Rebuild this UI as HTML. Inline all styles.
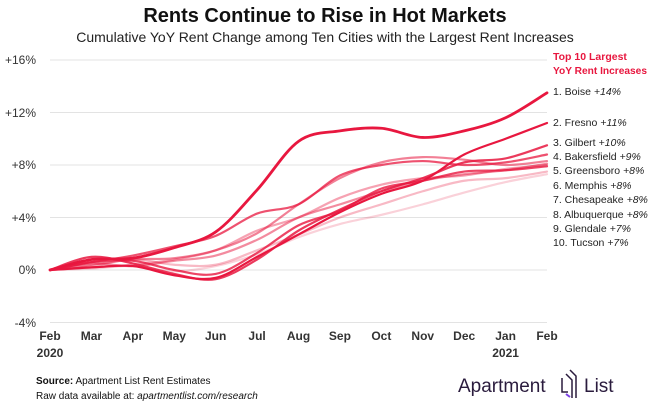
<!DOCTYPE html><html><head><meta charset="utf-8"><style>
body{margin:0;background:#fff;width:650px;height:405px;overflow:hidden;font-family:"Liberation Sans",sans-serif}
</style></head><body>
<svg id="s" width="650" height="405" xmlns="http://www.w3.org/2000/svg" font-family="Liberation Sans, sans-serif">
<text x="325" y="22" text-anchor="middle" font-size="20" font-weight="bold" fill="#111">Rents Continue to Rise in Hot Markets</text>
<text x="325" y="42" text-anchor="middle" font-size="14" fill="#222">Cumulative YoY Rent Change among Ten Cities with the Largest Rent Increases</text>
<g stroke="#e3e3e3" stroke-width="1">
<line x1="50" x2="547" y1="60" y2="60"/><line x1="50" x2="547" y1="112.5" y2="112.5"/><line x1="50" x2="547" y1="165" y2="165"/><line x1="50" x2="547" y1="217.5" y2="217.5"/><line x1="50" x2="547" y1="270" y2="270"/><line x1="50" x2="547" y1="322.5" y2="322.5"/>
</g>
<g font-size="12" fill="#333" text-anchor="end">
<text x="36" y="64">+16%</text><text x="36" y="117">+12%</text><text x="36" y="169">+8%</text><text x="36" y="222">+4%</text><text x="36" y="274">0%</text><text x="36" y="327">-4%</text>
</g>
<g font-size="12" font-weight="bold" fill="#333" text-anchor="middle" id="xl"></g>
<g id="lines" fill="none" stroke-linecap="round" stroke-width="2.2"></g>
<text x="553" y="60" font-size="10.5" font-weight="bold" fill="#e8173f">Top 10 Largest</text>
<text x="553" y="74" font-size="10.5" font-weight="bold" fill="#e8173f" textLength="94" lengthAdjust="spacingAndGlyphs">YoY Rent Increases</text>
<g font-size="10.5" fill="#222">
<text x="553" y="95">1. Boise <tspan font-style="italic">+14%</tspan></text>
<text x="553" y="126">2. Fresno <tspan font-style="italic">+11%</tspan></text>
<text x="553" y="146">3. Gilbert <tspan font-style="italic">+10%</tspan></text>
<text x="553" y="160">4. Bakersfield <tspan font-style="italic">+9%</tspan></text>
<text x="553" y="174">5. Greensboro <tspan font-style="italic">+8%</tspan></text>
<text x="553" y="189">6. Memphis <tspan font-style="italic">+8%</tspan></text>
<text x="553" y="203">7. Chesapeake <tspan font-style="italic">+8%</tspan></text>
<text x="553" y="218">8. Albuquerque <tspan font-style="italic">+8%</tspan></text>
<text x="553" y="232">9. Glendale <tspan font-style="italic">+7%</tspan></text>
<text x="553" y="246">10. Tucson <tspan font-style="italic">+7%</tspan></text>
</g>
<text x="36" y="384" font-size="10" fill="#111"><tspan font-weight="bold">Source:</tspan> Apartment List Rent Estimates</text>
<text x="36" y="399" font-size="10" fill="#111">Raw data available at: <tspan font-style="italic">apartmentlist.com/research</tspan></text>
<text x="458" y="392" font-size="19" fill="#2a1b3d">Apartment</text>
<g fill="none" stroke="#2a1b3d" stroke-width="1.5"><path d="M562 378 v14 h6"/><path d="M566 374 l6 6 v18"/><path d="M570 370 l6 6 v22"/></g>
<path d="M566 394 l4 3" stroke="#7b3fe4" stroke-width="2"/>
<text x="584" y="392" font-size="19" fill="#2a1b3d">List</text>
</svg>
<script>
var m=["Feb","Mar","Apr","May","Jun","Jul","Aug","Sep","Oct","Nov","Dec","Jan","Feb"];
var xl=document.getElementById('xl'),ns="http://www.w3.org/2000/svg";
function X(i){return 50+i*497/12}function Y(v){return 270-v*13.125}
m.forEach(function(t,i){var e=document.createElementNS(ns,'text');e.setAttribute('x',X(i));e.setAttribute('y',340);e.textContent=t;xl.appendChild(e);});
[[0,"2020"],[11,"2021"]].forEach(function(a){var e=document.createElementNS(ns,'text');e.setAttribute('x',X(a[0]));e.setAttribute('y',357);e.textContent=a[1];xl.appendChild(e);});
var d=[
[0,0.2,0.3,-0.4,-0.6,1.0,2.7,4.4,5.8,6.8,8.8,10.0,11.2,1],
[0,1.0,0.5,-0.3,-0.7,0.8,3.0,4.6,6.0,7.0,8.2,8.5,9.5,0.85],
[0,0.6,1.1,1.8,2.6,4.3,5.0,7.2,8.0,8.3,8.0,8.2,8.8,0.75],
[0,0.4,0.8,0.9,1.5,2.8,5.0,7.0,8.2,8.6,8.4,8.0,8.3,0.55],
[0,0.5,0.3,0.7,1.1,2.3,4.0,5.0,6.0,6.8,7.3,7.6,8.1,0.5],
[0,0.2,0.4,0.8,1.5,3.0,4.0,5.5,6.5,7.0,7.2,7.7,8.0,0.4],
[0,0.6,0.7,0.0,-0.3,1.3,3.4,4.5,6.2,6.8,7.5,7.6,7.9,0.8],
[0,0.3,0.8,0.4,0.4,1.5,2.7,4.0,5.0,6.0,6.8,7.0,7.5,0.3],
[0,0.1,0.3,-0.1,0.3,1.2,2.5,3.5,4.2,5.0,5.9,6.7,7.3,0.2],
[0,0.8,0.9,1.7,2.9,6.1,9.8,10.6,10.8,10.1,10.6,11.6,13.5,1]];
var g=document.getElementById('lines');
d.reverse().forEach(function(s){var p=s.slice(0,13).map(function(v,i){return [X(i),Y(v)]});
var str="M"+p[0];for(var i=0;i<12;i++){var p0=p[Math.max(0,i-1)],p1=p[i],p2=p[i+1],p3=p[Math.min(12,i+2)];
str+=" C"+(p1[0]+(p2[0]-p0[0])/6)+","+(p1[1]+(p2[1]-p0[1])/6)+" "+(p2[0]-(p3[0]-p1[0])/6)+","+(p2[1]-(p3[1]-p1[1])/6)+" "+p2;}
var e=document.createElementNS(ns,'path');e.setAttribute('d',str);e.setAttribute('stroke','#e8173f');e.setAttribute('stroke-opacity',s[13]);if(s[12]>13)e.setAttribute('stroke-width','2.8');g.appendChild(e);});
</script>
</body></html>
